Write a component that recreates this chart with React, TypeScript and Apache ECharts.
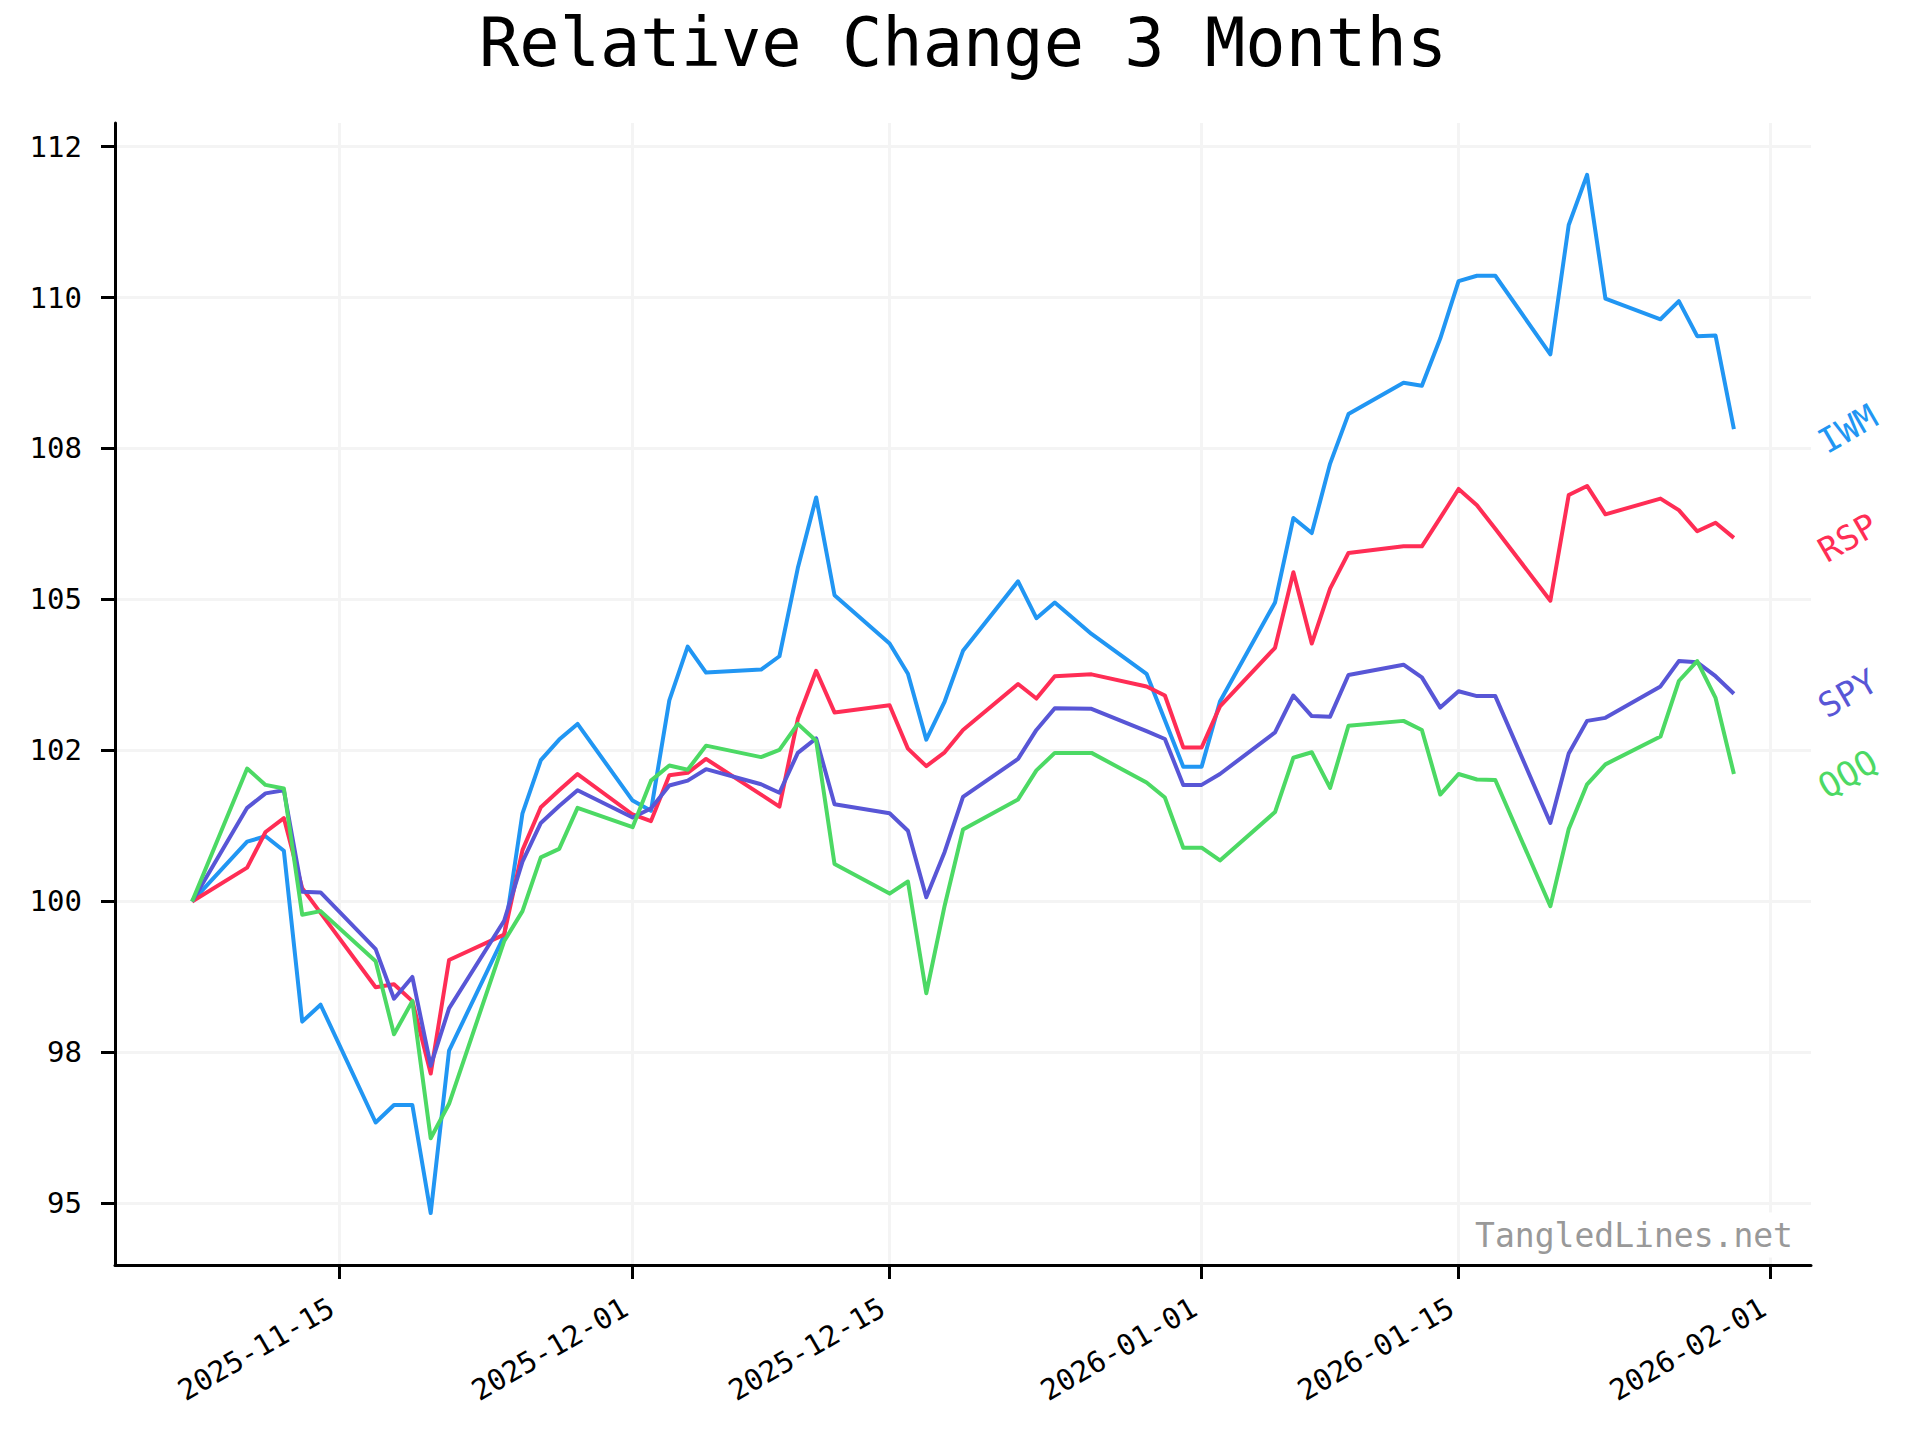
import React, { useEffect, useRef } from "react";
import * as echarts from "echarts";

const chartTitle = "Relative Change 3 Months";
const watermark = "TangledLines.net";

const dates = [
  "2025-11-07",
  "2025-11-10", "2025-11-11", "2025-11-12", "2025-11-13", "2025-11-14",
  "2025-11-17", "2025-11-18", "2025-11-19", "2025-11-20", "2025-11-21",
  "2025-11-24", "2025-11-25", "2025-11-26", "2025-11-27", "2025-11-28",
  "2025-12-01", "2025-12-02", "2025-12-03", "2025-12-04", "2025-12-05",
  "2025-12-08", "2025-12-09", "2025-12-10", "2025-12-11", "2025-12-12",
  "2025-12-15", "2025-12-16", "2025-12-17", "2025-12-18", "2025-12-19",
  "2025-12-22", "2025-12-23", "2025-12-24", "2025-12-26",
  "2025-12-29", "2025-12-30", "2025-12-31", "2026-01-01", "2026-01-02",
  "2026-01-05", "2026-01-06", "2026-01-07", "2026-01-08", "2026-01-09",
  "2026-01-12", "2026-01-13", "2026-01-14", "2026-01-15", "2026-01-16", "2026-01-17",
  "2026-01-20", "2026-01-21", "2026-01-22", "2026-01-23",
  "2026-01-26", "2026-01-27", "2026-01-28", "2026-01-29", "2026-01-30",
];

const iwm = [
  100,
  100.99, 101.08, 100.84, 98.01, 98.29,
  96.34, 96.63, 96.63, 94.84, 97.53,
  99.43, 101.46, 102.34, 102.68, 102.94,
  101.67, 101.5, 103.33, 104.22, 103.79,
  103.84, 104.06, 105.52, 106.69, 105.07,
  104.27, 103.77, 102.68, 103.31, 104.15,
  105.3, 104.69, 104.95, 104.43,
  103.77, 103.0, 102.23, 102.23, 103.31,
  104.95, 106.35, 106.1, 107.25, 108.07,
  108.59, 108.54, 109.32, 110.27, 110.36, 110.36,
  109.06, 111.2, 112.03, 109.98,
  109.64, 109.94, 109.36, 109.37, 107.82,
];

const rsp = [
  100,
  100.56, 101.15, 101.38, 100.22, 99.81,
  98.58, 98.63, 98.35, 97.15, 99.03,
  99.45, 100.85, 101.56, 101.84, 102.11,
  101.44, 101.33, 102.09, 102.13, 102.36,
  101.77, 101.57, 103.02, 103.82, 103.13,
  103.25, 102.53, 102.24, 102.47, 102.84,
  103.6, 103.36, 103.73, 103.76,
  103.56, 103.41, 102.55, 102.55, 103.23,
  104.2, 105.45, 104.27, 105.18, 105.77,
  105.88, 105.88, 106.35, 106.83, 106.56, 106.17,
  104.98, 106.73, 106.88, 106.41,
  106.67, 106.48, 106.13, 106.27, 106.02,
];

const spy = [
  100,
  101.55, 101.79, 101.84, 100.16, 100.15,
  99.21, 98.39, 98.75, 97.28, 98.23,
  99.68, 100.66, 101.3, 101.58, 101.84,
  101.39, 101.54, 101.92, 102.0, 102.19,
  101.94, 101.8, 102.46, 102.7, 101.61,
  101.46, 101.17, 100.07, 100.82, 101.73,
  102.36, 102.84, 103.2, 103.19,
  102.82, 102.69, 101.93, 101.93, 102.11,
  102.8, 103.41, 103.07, 103.06, 103.75,
  103.92, 103.71, 103.21, 103.48, 103.4, 103.4,
  101.3, 102.45, 102.99, 103.04,
  103.56, 103.98, 103.96, 103.73, 103.44,
];

const qqq = [
  100,
  102.2, 101.93, 101.87, 99.78, 99.84,
  99.01, 97.8, 98.35, 96.08, 96.65,
  99.34, 99.84, 100.73, 100.87, 101.55,
  101.23, 102.0, 102.25, 102.18, 102.58,
  102.39, 102.51, 102.94, 102.66, 100.62,
  100.13, 100.33, 98.48, 99.93, 101.19,
  101.69, 102.17, 102.46, 102.46,
  101.97, 101.72, 100.89, 100.89, 100.68,
  101.48, 102.38, 102.47, 101.88, 102.91,
  102.99, 102.84, 101.77, 102.11, 102.02, 102.01,
  99.92, 101.2, 101.94, 102.27,
  102.73, 103.65, 103.98, 103.37, 102.11,
];

const seriesNames = ["IWM", "RSP", "SPY", "QQQ"];
const seriesColors = ["#2196F3", "#FF2D55", "#5856D6", "#4CD964"];

const yTickValues = [95, 97.5, 100, 102.5, 105, 107.5, 110, 112.5];
const yTickLabels = ["95", "98", "100", "102", "105", "108", "110", "112"];
const xTickDates = ["2025-11-15", "2025-12-01", "2025-12-15", "2026-01-01", "2026-01-15", "2026-02-01"];

const FONT = '"DejaVu Sans Mono", monospace';

export default function App() {
  const ref = useRef<HTMLDivElement>(null);

  useEffect(() => {
    document.body.style.margin = "0";
    const chart = echarts.init(ref.current!, null, { renderer: "svg", width: 1920, height: 1440 });
    const toT = (d: string) => Date.parse(d + "T00:00:00Z");
    const times = dates.map(toT);
    const t0 = times[0];
    const t1 = times[times.length - 1];
    const span = t1 - t0;
    const valuesList = [iwm, rsp, spy, qqq];
    const all = valuesList.flat();
    const lo = Math.min(...all);
    const hi = Math.max(...all);
    const yr = hi - lo;
    const xTickTimes = xTickDates.map(toT);

    const series = valuesList.map((vals, i) => ({
      name: seriesNames[i],
      type: "line",
      data: vals.map((v, j) => [times[j], v]),
      showSymbol: false,
      symbol: "none",
      silent: true,
      lineStyle: { color: seriesColors[i], width: 4, join: "round" },
      itemStyle: { color: seriesColors[i] },
    }));

    chart.setOption({
      animation: false,
      backgroundColor: "#ffffff",
      grid: { left: 115, right: 109, top: 123, bottom: 175, containLabel: false },
      xAxis: {
        type: "value",
        min: t0 - 0.05 * span,
        max: t1 + 0.05 * span,
        axisLine: { show: true, onZero: false, lineStyle: { color: "#000", width: 3 } },
        axisTick: { show: true, length: 14, lineStyle: { color: "#000", width: 3 }, customValues: xTickTimes },
        axisLabel: {
          customValues: xTickTimes,
          formatter: (v: number) => {
            const k = xTickTimes.findIndex((t) => Math.abs(t - v) < 1000);
            return k >= 0 ? xTickDates[k] : "";
          },
          rotate: 30,
          align: "right",
          verticalAlign: "bottom",
          margin: 53,
          fontFamily: FONT,
          fontSize: 29,
          color: "#000",
        },
        splitLine: { show: true, lineStyle: { color: "#f4f4f4", width: 3 } },
      },
      yAxis: {
        type: "value",
        min: lo - 0.05 * yr,
        max: hi + 0.05 * yr,
        axisLine: { show: true, onZero: false, lineStyle: { color: "#000", width: 3 } },
        axisTick: { show: true, length: 14, lineStyle: { color: "#000", width: 3 }, customValues: yTickValues },
        axisLabel: {
          customValues: yTickValues,
          formatter: (v: number) => {
            const k = yTickValues.findIndex((t) => Math.abs(t - v) < 1e-6);
            return k >= 0 ? yTickLabels[k] : "";
          },
          margin: 33,
          fontFamily: FONT,
          fontSize: 29,
          color: "#000",
        },
        splitLine: { show: true, lineStyle: { color: "#f4f4f4", width: 3 } },
      },
      series,
    });

    const rightX = chart.convertToPixel({ xAxisIndex: 0 }, t1 + 0.05 * span) as number;
    const labelEls = valuesList.map((vals, i) => {
      const p = chart.convertToPixel({ gridIndex: 0 }, [t1, vals[vals.length - 1]]) as number[];
      return {
        type: "text",
        x: rightX + 10,
        y: p[1] + 15,
        rotation: (30 * Math.PI) / 180,
        silent: true,
        style: {
          text: seriesNames[i],
          fill: seriesColors[i],
          font: `34px ${FONT}`,
          align: "left",
          verticalAlign: "middle",
        },
      };
    });

    chart.setOption({
      graphic: [
        {
          type: "text",
          x: 963,
          y: 43,
          silent: true,
          style: {
            text: chartTitle,
            fill: "#000",
            font: `67px ${FONT}`,
            align: "center",
            verticalAlign: "middle",
          },
        },
        {
          type: "text",
          x: rightX - 12,
          y: 1235,
          silent: true,
          z: 10,
          style: {
            text: watermark,
            fill: "#999999",
            font: `33px ${FONT}`,
            align: "right",
            verticalAlign: "middle",
            backgroundColor: "#ffffff",
            padding: [6, 6, 6, 6],
          },
        },
        ...labelEls,
      ],
    });

    return () => chart.dispose();
  }, []);

  return <div ref={ref} style={{ width: 1920, height: 1440 }} />;
}
